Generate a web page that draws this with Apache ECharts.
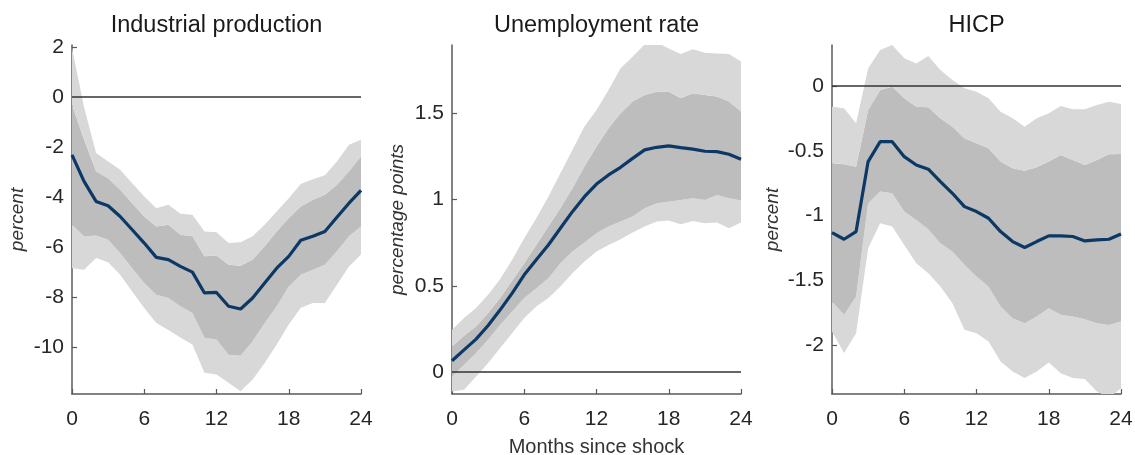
<!DOCTYPE html>
<html>
<head>
<meta charset="utf-8">
<script src="https://cdn.jsdelivr.net/npm/echarts@6/dist/echarts.min.js"></script>
<style>
html,body{margin:0;padding:0;background:#fff;}
#chart{width:1135px;height:455px;}
</style>
</head>
<body>
<div id="chart"></div>
<script>
// ---- data ----
const months = [0,1,2,3,4,5,6,7,8,9,10,11,12,13,14,15,16,17,18,19,20,21,22,23,24];
const xTickLabels = ['0','6','12','18','24'];
const panelTitles = ['Industrial production', 'Unemployment rate', 'HICP'];
const yNames = ['percent', 'percentage points', 'percent'];
const xName = 'Months since shock';

// Industrial production
const ipMedian    = [-2.31,-3.37,-4.17,-4.34,-4.77,-5.3,-5.83,-6.4,-6.49,-6.76,-6.99,-7.82,-7.8,-8.35,-8.46,-8.02,-7.42,-6.83,-6.36,-5.72,-5.56,-5.37,-4.8,-4.24,-3.73];
const ipLightHigh = [1.94,-0.4,-2.24,-2.58,-2.91,-3.44,-3.97,-4.44,-4.3,-4.66,-4.7,-5.37,-5.4,-5.83,-5.8,-5.56,-5.1,-4.57,-4.04,-3.47,-3.28,-3.13,-2.58,-1.91,-1.71];
const ipDarkHigh  = [-0.3,-1.71,-2.97,-3.24,-3.7,-4.24,-4.77,-5.17,-5.1,-5.5,-5.56,-6.36,-6.33,-6.69,-6.73,-6.49,-5.96,-5.37,-4.83,-4.37,-4.1,-3.9,-3.5,-2.97,-2.38];
const ipDarkLow   = [-5.1,-5.56,-5.53,-5.7,-6.23,-6.83,-7.42,-7.89,-8.02,-8.35,-8.62,-9.61,-9.68,-10.28,-10.32,-9.75,-9.02,-8.35,-7.56,-7.09,-6.89,-6.69,-6.16,-5.56,-5.17];
const ipLightLow  = [-6.83,-6.89,-6.43,-6.6,-7.09,-7.76,-8.42,-9.02,-9.3,-9.6,-9.88,-11.0,-11.07,-11.4,-11.74,-11.27,-10.61,-9.88,-9.08,-8.41,-8.22,-8.22,-7.49,-6.76,-6.29];

// Unemployment rate
const urMedian    = [0.066,0.129,0.191,0.27,0.361,0.458,0.564,0.651,0.737,0.834,0.93,1.017,1.09,1.143,1.187,1.239,1.288,1.303,1.311,1.301,1.292,1.28,1.278,1.263,1.234];
const urLightHigh = [0.245,0.313,0.371,0.448,0.539,0.651,0.776,0.892,1.017,1.153,1.288,1.423,1.519,1.635,1.761,1.828,1.9,1.91,1.876,1.844,1.871,1.851,1.847,1.844,1.8];
const urDarkHigh  = [0.149,0.21,0.264,0.342,0.429,0.531,0.631,0.737,0.844,0.95,1.066,1.191,1.307,1.413,1.5,1.568,1.606,1.625,1.625,1.587,1.616,1.606,1.597,1.568,1.51];
const urDarkLow   = [-0.025,0.042,0.11,0.187,0.274,0.351,0.429,0.486,0.544,0.631,0.699,0.751,0.805,0.844,0.873,0.902,0.95,0.979,0.988,0.998,1.008,0.998,1.027,1.008,0.994];
const urLightLow  = [-0.112,-0.102,-0.025,0.052,0.139,0.226,0.313,0.38,0.429,0.496,0.573,0.641,0.699,0.737,0.77,0.809,0.844,0.873,0.878,0.857,0.876,0.863,0.867,0.834,0.867];

// HICP
const hicpMedian    = [-1.133,-1.184,-1.125,-0.584,-0.43,-0.43,-0.546,-0.61,-0.643,-0.739,-0.829,-0.932,-0.97,-1.022,-1.125,-1.202,-1.248,-1.202,-1.158,-1.158,-1.163,-1.197,-1.189,-1.184,-1.143];
const hicpLightHigh = [-0.16,-0.172,-0.288,0.136,0.278,0.317,0.214,0.175,0.232,0.124,0.046,-0.018,-0.044,-0.095,-0.198,-0.25,-0.314,-0.25,-0.211,-0.154,-0.18,-0.18,-0.147,-0.121,-0.139];
const hicpDarkHigh  = [-0.597,-0.605,-0.623,-0.185,-0.031,-0.005,-0.095,-0.16,-0.165,-0.25,-0.314,-0.404,-0.443,-0.481,-0.584,-0.636,-0.654,-0.628,-0.584,-0.533,-0.571,-0.61,-0.571,-0.528,-0.525];
const hicpDarkLow   = [-1.665,-1.768,-1.627,-0.906,-0.816,-0.829,-0.97,-1.035,-1.107,-1.215,-1.279,-1.382,-1.472,-1.55,-1.704,-1.794,-1.833,-1.781,-1.717,-1.768,-1.781,-1.802,-1.833,-1.846,-1.82];
const hicpLightLow  = [-1.897,-2.064,-1.91,-1.254,-1.06,-1.086,-1.228,-1.369,-1.447,-1.55,-1.678,-1.884,-1.91,-1.974,-2.129,-2.206,-2.257,-2.206,-2.136,-2.219,-2.257,-2.265,-2.36,-2.41,-2.335];

// axis ranges / tick steps
const yMins  = [-11.85, -0.127, -2.38];
const yMaxs  = [2.07, 1.896, 0.317];
const ySteps = [2, 0.5, 0.5];

// ---- styling ----
const FONT = '"Liberation Sans", Arial, Helvetica, sans-serif';
const TEXT = '#262626';
const AXIS = '#5a5a5a';
const LIGHT = '#d8d8d8';
const DARK = '#bdbdbd';
const NAVY = '#0c3866';

const panels = [
  {med: ipMedian, lh: ipLightHigh, dh: ipDarkHigh, dl: ipDarkLow, ll: ipLightLow},
  {med: urMedian, lh: urLightHigh, dh: urDarkHigh, dl: urDarkLow, ll: urLightLow},
  {med: hicpMedian, lh: hicpLightHigh, dh: hicpDarkHigh, dl: hicpDarkLow, ll: hicpLightLow}
];
const gridLefts = [72, 452, 832];
const gridWidth = 289;
const gridTop = 45;
const gridHeight = 349;
const nameGaps = [45, 45, 50];

function diff(a, b) { return a.map((v, i) => +(v - b[i]).toFixed(4)); }

const grids = [], xAxes = [], yAxes = [], series = [], graphics = [];
panels.forEach((p, i) => {
  grids.push({left: gridLefts[i], top: gridTop, width: gridWidth, height: gridHeight, containLabel: false, outerBoundsMode: 'none'});
  xAxes.push({
    type: 'category', gridIndex: i, data: months.map(String), boundaryGap: false,
    axisLine: {onZero: false, lineStyle: {color: AXIS, width: 1.5}},
    axisTick: {inside: true, length: 5, interval: 5, lineStyle: {color: AXIS, width: 1.2}},
    axisLabel: {interval: 5, margin: 15, color: TEXT, fontSize: 21, fontFamily: FONT,
      formatter: v => (xTickLabels.indexOf(v) >= 0 ? v : '')},
    splitLine: {show: false},
    name: i === 1 ? xName : '', nameLocation: 'middle', nameGap: 43,
    nameTextStyle: {color: '#333', fontSize: 20, fontFamily: FONT}
  });
  const step = ySteps[i];
  yAxes.push({
    type: 'value', gridIndex: i, min: yMins[i], max: yMaxs[i],
    minInterval: step, maxInterval: step,
    axisLine: {show: true, lineStyle: {color: AXIS, width: 1.5}},
    axisTick: {show: true, inside: true, length: 5, lineStyle: {color: AXIS, width: 1.2}},
    axisLabel: {margin: 8, color: TEXT, fontSize: 21, fontFamily: FONT, showMinLabel: false, showMaxLabel: false,
      formatter: v => { const r = v / step; return Math.abs(r - Math.round(r)) < 1e-6 ? String(+v.toFixed(2)) : ''; }},
    splitLine: {show: false},
    name: yNames[i], nameLocation: 'middle', nameGap: nameGaps[i],
    nameTextStyle: {color: '#333', fontSize: 19, fontStyle: 'italic', fontFamily: FONT}
  });
  const common = {type: 'line', xAxisIndex: i, yAxisIndex: i, stack: 'band' + i, stackStrategy: 'all',
    symbol: 'none', silent: true, lineStyle: {opacity: 0, width: 0}, z: 2};
  series.push(Object.assign({}, common, {data: p.ll}));
  series.push(Object.assign({}, common, {data: diff(p.dl, p.ll), areaStyle: {color: LIGHT, opacity: 1}}));
  series.push(Object.assign({}, common, {data: diff(p.dh, p.dl), areaStyle: {color: DARK, opacity: 1}}));
  series.push(Object.assign({}, common, {data: diff(p.lh, p.dh), areaStyle: {color: LIGHT, opacity: 1}}));
  series.push({
    type: 'line', xAxisIndex: i, yAxisIndex: i, data: p.med, symbol: 'none', silent: true, z: 6,
    lineStyle: {color: NAVY, width: 3.2},
    markLine: {silent: true, symbol: ['none', 'none'], label: {show: false},
      lineStyle: {color: '#333', width: 1.5, type: 'solid'}, data: [{yAxis: 0}]}
  });
  graphics.push({type: 'text', x: gridLefts[i] + gridWidth / 2, y: 25.5, z: 10,
    style: {text: panelTitles[i], fill: '#1a1a1a', font: '23.5px ' + FONT, textAlign: 'center', textVerticalAlign: 'middle', verticalAlign: 'middle'}});
});

const chart = echarts.init(document.getElementById('chart'), null, {renderer: 'canvas'});
chart.setOption({
  animation: false,
  backgroundColor: '#fff',
  grid: grids, xAxis: xAxes, yAxis: yAxes, series: series, graphic: graphics
});
</script>
</body>
</html>
